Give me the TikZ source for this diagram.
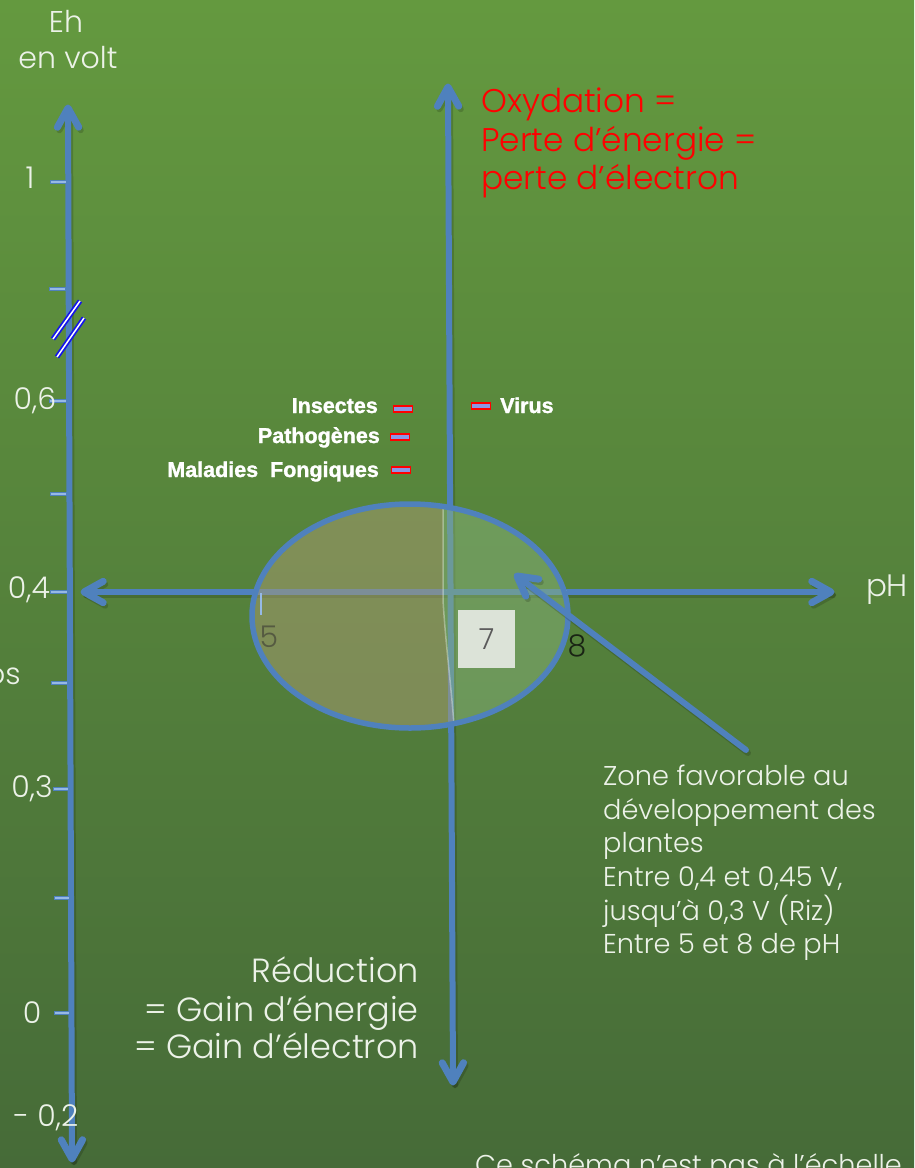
\documentclass[tikz,border=0pt]{standalone}
\usepackage{fontspec}
\setmainfont{Poppins}[UprightFont=* Light]
\newfontfamily\heavy{Liberation Sans}[BoldFeatures={FakeBold=1.4}]
\usetikzlibrary{calc}
\definecolor{bgtop}{RGB}{100,153,63}
\definecolor{bgbot}{RGB}{70,107,56}
\definecolor{axisblue}{RGB}{79,129,189}
\definecolor{ticklight}{RGB}{150,185,230}
\definecolor{txtwhite}{RGB}{236,242,232}
\definecolor{leftfill}{RGB}{170,155,115}
\definecolor{rightfill}{RGB}{135,178,122}
\definecolor{boxgray}{RGB}{220,227,216}
\definecolor{dashfill}{RGB}{140,150,230}
\definecolor{breakblue}{RGB}{20,20,235}
\tikzset{
  axisline/.style={draw=axisblue,line width=6pt,line cap=round,line join=round},
  chevline/.style={draw=axisblue,line width=7pt,line cap=round,line join=round},
  axisshadow/.style={draw=black,opacity=0.16,line width=6pt,line cap=round,line join=round},
  tickmark/.style={draw=axisblue,line width=4pt},
  tickhi/.style={draw=ticklight,line width=1.2pt},
  axlbl/.style={text=txtwhite,inner sep=0pt,font=\fontsize{30}{30}\selectfont},
  redtxt/.style={text=red,inner sep=0pt,anchor=base west,font=\fontsize{32.8}{32.8}\selectfont},
  redtxtR/.style={text=txtwhite,inner sep=0pt,anchor=base east,font=\fontsize{33.5}{33.5}\selectfont},
  zonetxt/.style={text=txtwhite,inner sep=0pt,anchor=base west,font=\fontsize{27.2}{27.2}\selectfont},
  pest/.style={text=white,inner sep=0pt,font=\heavy\bfseries\fontsize{21.5}{21.5}\selectfont},
  pestdash/.style={draw=red,line width=1.8pt,fill=dashfill,minimum width=19pt,minimum height=6pt,inner sep=0pt},
  phnum/.style={inner sep=0pt,font=\fontsize{30}{30}\selectfont},
}
% chevron tip: #1 style, #2 tip, #3 the other end of the line
\newcommand\chevtip[3]{\draw[#1] ($(#2)!22pt!29:(#3)$) -- (#2) -- ($(#2)!22pt!-29:(#3)$);}
\begin{document}
\begin{tikzpicture}[x=1pt,y=-1pt]
\useasboundingbox (0,0) rectangle (914,1168);
\shade[top color=bgtop,bottom color=bgbot] (0,0) rectangle (914,1168);

% coordinates of axes
\coordinate (ltop) at (68,108);
\coordinate (lbot) at (72,1159);
\coordinate (hleft) at (84,592);
\coordinate (hright) at (831,592);
\coordinate (ctop) at (448,87);
\coordinate (cbot) at (453,1082);
\coordinate (pstart) at (746,750);
\coordinate (ptip) at (517,576);
% shadow copies
\coordinate (sltop) at (70,111);
\coordinate (slbot) at (74,1162);
\coordinate (shleft) at (86,595);
\coordinate (shright) at (833,595);
\coordinate (sctop) at (450,90);
\coordinate (scbot) at (455,1085);
\coordinate (spstart) at (748,753);
\coordinate (sptip) at (519,579);

% shadows
\draw[axisshadow] (sltop) -- (slbot);
\chevtip{axisshadow}{sltop}{slbot}
\chevtip{axisshadow}{slbot}{sltop}
\draw[axisshadow] (shleft) -- (shright);
\chevtip{axisshadow}{shleft}{shright}
\chevtip{axisshadow}{shright}{shleft}
\draw[axisshadow] (sctop) -- (scbot);
\chevtip{axisshadow}{sctop}{scbot}
\chevtip{axisshadow}{scbot}{sctop}

% axes
\draw[axisline] (ltop) -- (lbot);
\chevtip{chevline}{ltop}{lbot}
\chevtip{chevline}{lbot}{ltop}
\draw[axisline] (hleft) -- (hright);
\chevtip{chevline}{hleft}{hright}
\chevtip{chevline}{hright}{hleft}
\draw[axisline] (ctop) -- (cbot);
\chevtip{chevline}{ctop}{cbot}
\chevtip{chevline}{cbot}{ctop}

% ticks on Eh axis
\foreach \yy/\xa/\xb in {182/50/68,289/49/67,401/49/68,494/50/68,592/50/69,683/51/69,789/53/70,898/54/71,1013/54/71}{
  \draw[tickmark] (\xa,\yy) -- (\xb,\yy);
  \draw[tickhi] (\xa+1,\yy) -- (\xb-2,\yy);
}

% axis break
\draw[breakblue,line width=5pt] (53,339) -- (80,301);
\draw[white,line width=1.5pt] (53,339) -- (80,301);
\draw[breakblue,line width=5pt] (57,357) -- (84,318);
\draw[white,line width=1.5pt] (57,357) -- (84,318);

% Eh labels
\node[axlbl] (eh) at (66,21) {Eh};
\node[axlbl] (enV) at (68,58) {en volt};
\node[axlbl] (v1) at (30,178) {1};
\node[axlbl] (v06) at (35,401) {0,6};
\node[axlbl] (v04) at (29,590) {0,4};
\node[axlbl,anchor=east] (vos) at (21,676) {os};
\node[axlbl] (v03) at (32,789) {0,3};
\node[axlbl] (v0) at (32,1013) {0};
\node[axlbl] (vm02) at (46,1118) {- 0,2};
\node[axlbl,font=\fontsize{31}{31}\selectfont] (ph) at (887,590) {pH};

% ellipse zone
\begin{scope}
  \clip (410,616) ellipse [x radius=158, y radius=112];
  \fill[leftfill,opacity=0.5] (240,490) -- (443,490) -- (443,600) .. controls (446,650) and (452,690) .. (455,740) -- (240,740) -- cycle;
  \fill[rightfill,opacity=0.5] (443,490) -- (600,490) -- (600,740) -- (455,740) .. controls (452,690) and (446,650) .. (443,600) -- cycle;
  \draw[white,opacity=0.35,line width=1.5pt] (443,490) -- (443,600) .. controls (446,650) and (452,690) .. (455,740);
\end{scope}
\draw[draw=ticklight,line width=2pt] (261,593) -- (261,615);
\draw[draw=ticklight,line width=2pt] (566,590) -- (566,606);
\draw[draw=axisblue,line width=5.5pt] (410,616) ellipse [x radius=158, y radius=112];

\node[phnum,text={rgb,255:red,85;green,90;blue,65}] (n5) at (269,637) {5};
\node[fill=boxgray,minimum width=57pt,minimum height=58pt,inner sep=0pt,text={rgb,255:red,90;green,90;blue,90},font=\fontsize{29}{29}\selectfont] (n7) at (486.5,639) {7};
\node[phnum,text={rgb,255:red,25;green,35;blue,20}] (n8) at (577,646) {8};

% pointer
\draw[axisshadow] (spstart) -- (sptip);
\chevtip{axisshadow}{sptip}{spstart}
\draw[axisline] (pstart) -- (ptip);
\chevtip{chevline}{ptip}{pstart}

% pests
\node[pest,anchor=base east] (ins) at (378,413) {Insectes};
\node[pest,anchor=base east] (pat) at (380,443) {Pathogènes};
\node[pest,anchor=base east] (mal) at (379,477) {Maladies\ \ Fongiques};
\node[pest,anchor=base west] (vir) at (500,413) {Virus};
\node[pestdash] (d1) at (403,409) {};
\node[pestdash] (d2) at (400,437) {};
\node[pestdash] (d3) at (401,470) {};
\node[pestdash] (d4) at (481,406) {};

% oxydation text
\node[redtxt] (ox1) at (481,112) {Oxydation =};
\node[redtxt] (ox2) at (481,151) {Perte d’énergie =};
\node[redtxt] (ox3) at (481,189) {perte d’électron};

% reduction text
\node[redtxtR] (re1) at (419,982) {Réduction};
\node[redtxtR] (re2) at (419,1021) {= Gain d’énergie};
\node[redtxtR] (re3) at (419,1058) {= Gain d’électron};

% zone text
\node[zonetxt] (z1) at (603,785) {Zone favorable au};
\node[zonetxt] (z2) at (603,819) {développement des};
\node[zonetxt] (z3) at (603,852) {plantes};
\node[zonetxt] (z4) at (603,886) {Entre 0,4 et 0,45 V,};
\node[zonetxt] (z5) at (603,920) {jusqu’à 0,3 V (Riz)};
\node[zonetxt] (z6) at (603,953) {Entre 5 et 8 de pH};

\node[zonetxt] (note) at (475,1174) {Ce schéma n’est pas à l’échelle};
\end{tikzpicture}
\end{document}
